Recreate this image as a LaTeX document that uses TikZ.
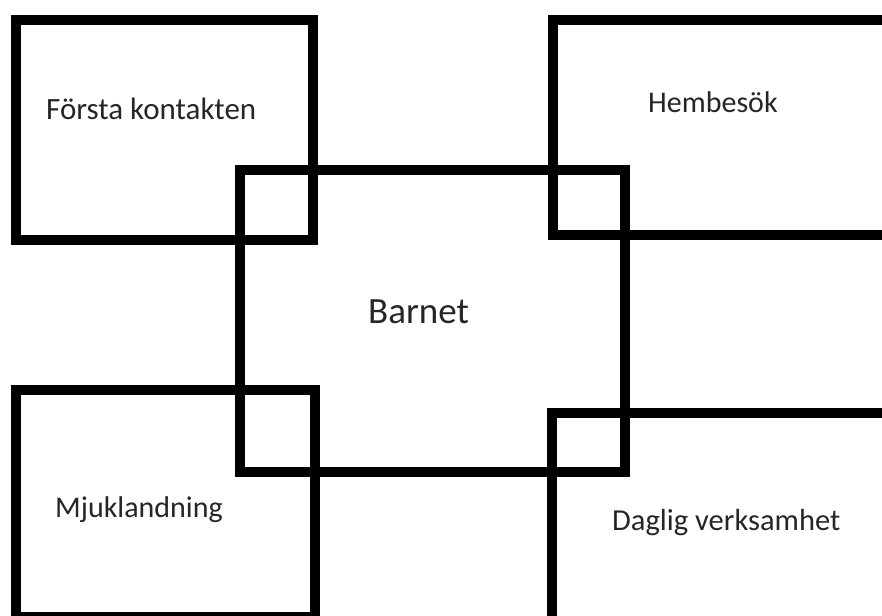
\documentclass[tikz,border=0pt]{standalone}
\usepackage{fontspec}
\setmainfont{Carlito}
\tikzset{
  box/.style={draw=black, line width=10pt, rectangle, inner sep=0pt, outer sep=0pt},
  lbl/.style={anchor=base west, inner sep=0pt, text=black!85, font=\fontsize{30}{34}\selectfont},
}
\begin{document}
\begin{tikzpicture}[x=1pt, y=-1pt]
\useasboundingbox (0,0) rectangle (882,615);
\clip (0,0) rectangle (882,615);
\fill[white] (0,0) rectangle (882,615);
% boxes
\node[box, minimum width=297.5pt, minimum height=220pt] (tl) at (164.25,130) {};
\node[box, minimum width=447pt, minimum height=215pt] (tr) at (776.5,127.5) {};
\node[box, minimum width=385.5pt, minimum height=302pt] (c) at (432.25,321) {};
\node[box, minimum width=299.5pt, minimum height=227pt] (bl) at (165.25,503.5) {};
\node[box, minimum width=448pt, minimum height=287pt] (br) at (776,556.5) {};
% labels
\node[lbl, font=\fontsize{31}{35}\selectfont] (tlt) at (46,120) {Första kontakten};
\node[lbl] (trt) at (648,113) {Hembesök};
\node[lbl, font=\fontsize{37}{41}\selectfont] (ct) at (368,323) {Barnet};
\node[lbl] (blt) at (55,517) {Mjuklandning};
\node[lbl, font=\fontsize{30.5}{35}\selectfont] (brt) at (612,530) {Daglig verksamhet};
\end{tikzpicture}
\end{document}
